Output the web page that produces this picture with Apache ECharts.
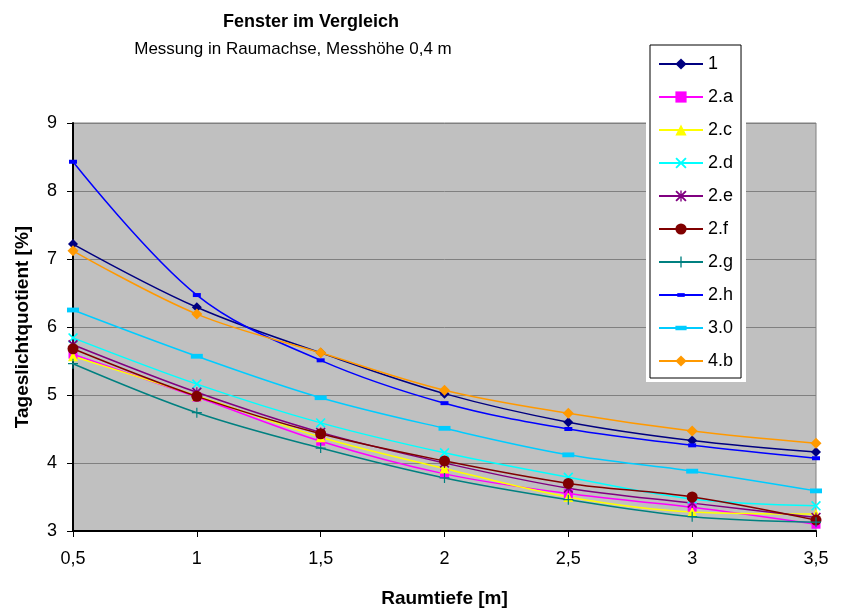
<!DOCTYPE html>
<html>
<head>
<meta charset="utf-8">
<script src="https://cdn.jsdelivr.net/npm/echarts@6/dist/echarts.min.js"></script>
<style>
html, body { margin: 0; padding: 0; background: #fff; }
#chart { width: 846px; height: 608px; }
</style>
</head>
<body>
<div id="chart"></div>
<script>
var xValues = [0.5, 1, 1.5, 2, 2.5, 3, 3.5];
var seriesNames = ['1', '2.a', '2.c', '2.d', '2.e', '2.f', '2.g', '2.h', '3.0', '4.b'];
var s1  = [7.22, 6.29, 5.62, 5.02, 4.60, 4.33, 4.16];
var s2a = [5.60, 4.97, 4.32, 3.84, 3.55, 3.35, 3.10];
var s2c = [5.57, 4.99, 4.38, 3.92, 3.50, 3.28, 3.25];
var s2d = [5.84, 5.16, 4.59, 4.15, 3.79, 3.47, 3.37];
var s2e = [5.74, 5.04, 4.45, 4.00, 3.63, 3.41, 3.20];
var s2f = [5.68, 4.98, 4.43, 4.03, 3.70, 3.50, 3.16];
var s2g = [5.46, 4.74, 4.22, 3.78, 3.46, 3.21, 3.13];
var s2h = [8.43, 6.47, 5.51, 4.88, 4.50, 4.26, 4.07];
var s30 = [6.25, 5.57, 4.96, 4.51, 4.12, 3.88, 3.59];
var s4b = [7.12, 6.19, 5.62, 5.07, 4.73, 4.47, 4.29];
var allValues = [s1, s2a, s2c, s2d, s2e, s2f, s2g, s2h, s30, s4b];

var colors = ['#000080', '#FF00FF', '#FFFF00', '#00FFFF', '#800080', '#800000', '#008080', '#0000FF', '#00CCFF', '#FF9900'];

// stroke-like markers drawn as thin filled shapes
var symX = 'path://M0,1.2 L1.2,0 L10,8.8 L8.8,10 Z M8.8,0 L10,1.2 L1.2,10 L0,8.8 Z';
var symPlus = 'path://M4.4,0 L5.6,0 L5.6,10 L4.4,10 Z M0,4.4 L10,4.4 L10,5.6 L0,5.6 Z';
var symStar = 'path://M0,1.2 L1.2,0 L10,8.8 L8.8,10 Z M8.8,0 L10,1.2 L1.2,10 L0,8.8 Z M4.4,0 L5.6,0 L5.6,10 L4.4,10 Z';
// flat rectangles inside a square box so the legend keeps their shape
var symSmallRect = 'path://M0,0 M12,12 M2,4 L10,4 L10,8 L2,8 Z';
var symWideRect = 'path://M0,0 M12,12 M0,3.6 L12,3.6 L12,8.4 L0,8.4 Z';
var symbols = ['diamond', 'rect', 'triangle', symX, symStar, 'circle', symPlus, symSmallRect, symWideRect, 'diamond'];
var sizes = [10, 9, 10, 10, 10, 11, 10, 12, 12, 11];

var chart = echarts.init(document.getElementById('chart'));

var series = seriesNames.map(function (name, i) {
  return {
    name: name,
    type: 'line',
    smooth: 0.35,
    data: xValues.map(function (x, j) { return [x, allValues[i][j]]; }),
    symbol: symbols[i],
    symbolSize: sizes[i],
    symbolKeepAspect: true,
    showAllSymbol: true,
    itemStyle: { color: colors[i] },
    lineStyle: { color: colors[i], width: 1.5 },
    emphasis: { disabled: true }
  };
});

var option = {
  animation: false,
  textStyle: { fontFamily: 'Liberation Sans, Arial, sans-serif' },
  title: [
    {
      text: 'Fenster im Vergleich',
      left: 306, top: 8, textAlign: 'center',
      textStyle: { fontSize: 18, fontWeight: 'bold', color: '#000' }
    },
    {
      text: 'Messung in Raumachse, Messhöhe 0,4 m',
      left: 288, top: 36, textAlign: 'center',
      textStyle: { fontSize: 17, fontWeight: 'normal', color: '#000' }
    }
  ],
  graphic: [{
    type: 'rect', z: 5,
    shape: { x: 646, y: 41, width: 100, height: 341 },
    style: { fill: '#fff' }
  }],
  legend: {
    orient: 'vertical',
    left: 650, top: 45,
    padding: [10, 8, 8, 8],
    itemWidth: 44, itemHeight: 14, itemGap: 15,
    backgroundColor: '#fff',
    borderColor: '#000', borderWidth: 1,
    textStyle: { fontSize: 18, color: '#000' },
    z: 10,
    data: seriesNames
  },
  grid: {
    left: 73, right: 30, top: 123, bottom: 77,
    outerBoundsMode: 'none',
    show: true, backgroundColor: '#C0C0C0',
    borderColor: '#808080', borderWidth: 1
  },
  xAxis: {
    type: 'value', min: 0.5, max: 3.5, interval: 0.5,
    name: 'Raumtiefe [m]', nameLocation: 'middle', nameGap: 58,
    nameTextStyle: { fontSize: 19, fontWeight: 'bold', color: '#000' },
    axisLine: { lineStyle: { color: '#000', width: 2 } },
    axisTick: { length: 6, lineStyle: { color: '#000' } },
    axisLabel: {
      fontSize: 18, color: '#000', margin: 19,
      formatter: function (v) { return String(v).replace('.', ','); }
    },
    splitLine: { show: false }
  },
  yAxis: {
    type: 'value', min: 3, max: 9, interval: 1,
    name: 'Tageslichtquotient [%]', nameLocation: 'middle', nameGap: 41,
    nameTextStyle: { fontSize: 19, fontWeight: 'bold', color: '#000' },
    axisLine: { show: true, lineStyle: { color: '#000', width: 2 } },
    axisTick: { show: true, length: 6, lineStyle: { color: '#000' } },
    axisLabel: { fontSize: 18, color: '#000', margin: 16 },
    splitLine: { lineStyle: { color: '#808080', width: 1 } }
  },
  series: series
};

chart.setOption(option);
</script>
</body>
</html>
